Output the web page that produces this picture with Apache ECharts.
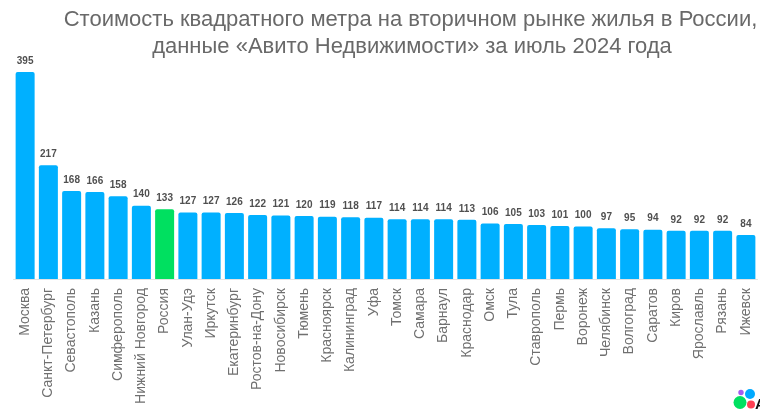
<!DOCTYPE html>
<html>
<head>
<meta charset="utf-8">
<style>
  html, body { margin: 0; padding: 0; background: #fff; overflow: hidden; }
  #chart { width: 760px; height: 417px; }
</style>
<script src="https://cdn.jsdelivr.net/npm/echarts@6/dist/echarts.min.js"></script>
</head>
<body>
<div id="chart"></div>
<script>
const cities = ['Москва', 'Санкт-Петербург', 'Севастополь', 'Казань', 'Симферополь', 'Нижний Новгород', 'Россия', 'Улан-Удэ',
  'Иркутск', 'Екатеринбург', 'Ростов-на-Дону', 'Новосибирск', 'Тюмень', 'Красноярск', 'Калининград', 'Уфа',
  'Томск', 'Самара', 'Барнаул', 'Краснодар', 'Омск', 'Тула', 'Ставрополь', 'Пермь',
  'Воронеж', 'Челябинск', 'Волгоград', 'Саратов', 'Киров', 'Ярославль', 'Рязань', 'Ижевск']
const prices = [395, 217, 168, 166, 158, 140, 133, 127, 127, 126, 122, 121, 120, 119, 118, 117,
  114, 114, 114, 113, 106, 105, 103, 101, 100, 97, 95, 94, 92, 92, 92, 84]
const highlightCity = 'Россия'
const titleLines = ['Стоимость квадратного метра на вторичном рынке жилья в России,', 'данные «Авито Недвижимости» за июль 2024 года']

const font = '"Liberation Sans", Arial, sans-serif'
const chart = echarts.init(document.getElementById('chart'))

chart.setOption({
  animation: false,
  backgroundColor: '#fff',
  grid: { left: 13.5, top: 72, width: 744, height: 207 },
  xAxis: {
    type: 'category',
    data: cities,
    axisLine: { lineStyle: { color: '#e3e3e3', width: 1 } },
    axisTick: { show: false },
    axisLabel: {
      rotate: 90,
      interval: 0,
      margin: 9,
      padding: [4, 0, 0, 0],
      color: '#707070',
      fontFamily: font,
      fontSize: 14
    }
  },
  yAxis: { type: 'value', min: 0, max: 395, show: false },
  series: [{
    type: 'bar',
    barWidth: 19,
    data: prices.map(function (v, i) {
      return {
        value: v,
        itemStyle: { color: cities[i] === highlightCity ? '#00e060' : '#00b0ff', borderRadius: [2, 2, 0, 0] }
      }
    }),
    label: {
      show: true,
      position: 'top',
      distance: 6,
      color: '#505050',
      fontFamily: font,
      fontWeight: 'bold',
      fontSize: 10
    }
  }],
  graphic: [
    // заголовок сдвинут вправо, как на исходной картинке
    { type: 'text', x: 410.5, y: 9, style: { text: titleLines[0], align: 'center', fill: '#696969', font: '22px ' + font } },
    { type: 'text', x: 412, y: 36, style: { text: titleLines[1], align: 'center', fill: '#696969', font: '22px ' + font } },
    // логотип в правом нижнем углу
    { type: 'circle', shape: { cx: 740, cy: 402.5, r: 6.5 }, style: { fill: '#00e060' } },
    { type: 'circle', shape: { cx: 750, cy: 394, r: 5 }, style: { fill: '#00aaff' } },
    { type: 'circle', shape: { cx: 751, cy: 404.5, r: 4 }, style: { fill: '#ff4053' } },
    { type: 'circle', shape: { cx: 741, cy: 392.5, r: 2.7 }, style: { fill: '#a35cf0' } },
    { type: 'text', x: 755, y: 397, style: { text: 'A', fill: '#111', font: 'bold 15px ' + font } }
  ]
})
</script>
</body>
</html>
